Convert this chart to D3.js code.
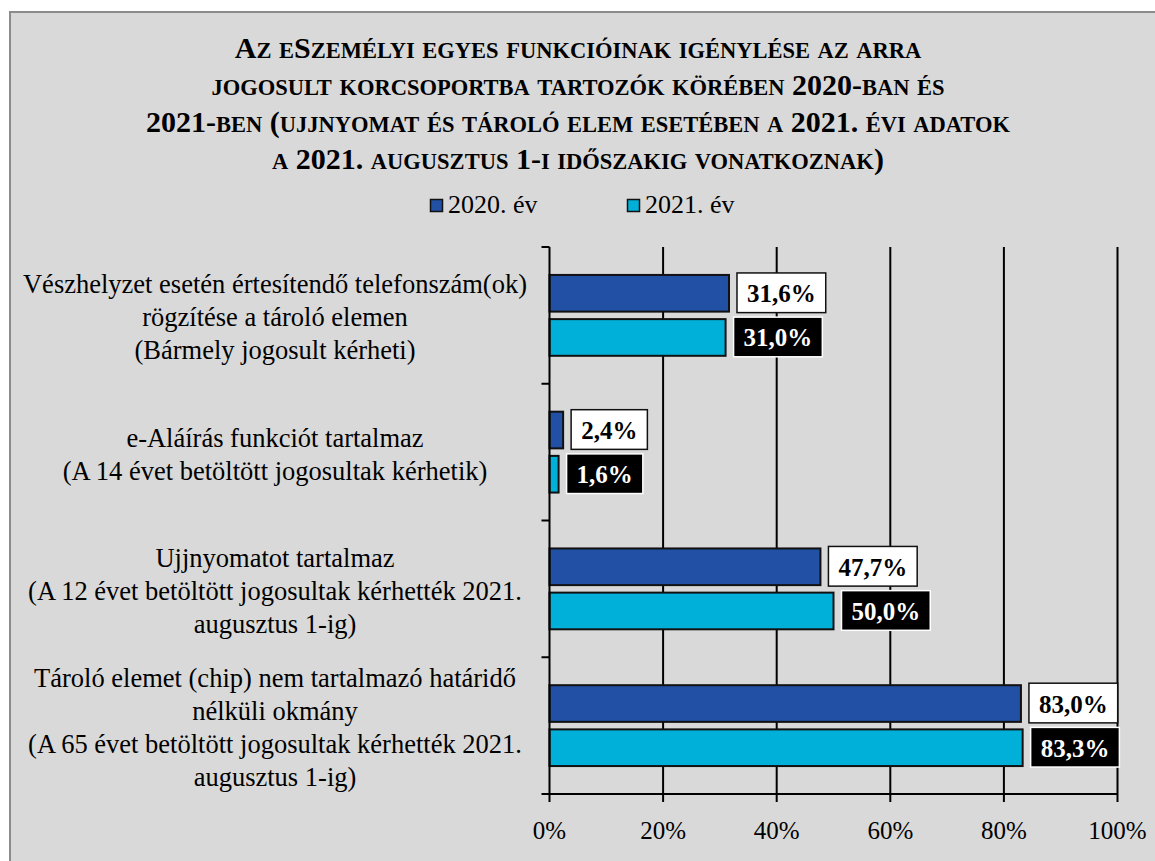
<!DOCTYPE html>
<html><head><meta charset="utf-8">
<script src="https://cdn.jsdelivr.net/npm/d3@7/dist/d3.min.js"></script>
<style>html,body{margin:0;padding:0;background:#fff;}svg{display:block;}</style>
</head><body>
<script>
const categories = [
  ["Vészhelyzet esetén értesítendő telefonszám(ok)", "rögzítése a tároló elemen", "(Bármely jogosult kérheti)"],
  ["e-Aláírás funkciót tartalmaz", "(A 14 évet betöltött jogosultak kérhetik)"],
  ["Ujjnyomatot tartalmaz", "(A 12 évet betöltött jogosultak kérhették 2021.", "augusztus 1-ig)"],
  ["Tároló elemet (chip) nem tartalmazó határidő", "nélküli okmány", "(A 65 évet betöltött jogosultak kérhették 2021.", "augusztus 1-ig)"]
];
const seriesNames = ["2020. év", "2021. év"];
const values2020 = [31.6, 2.4, 47.7, 83.0];
const values2021 = [31.0, 1.6, 50.0, 83.3];
const xTicks = [0, 20, 40, 60, 80, 100];
const titleLines = [
  "Az eSzemélyi egyes funkcióinak igénylése az arra",
  "jogosult korcsoportba tartozók körében 2020-ban és",
  "2021-ben (ujjnyomat és tároló elem esetében a 2021. évi adatok",
  "a 2021. augusztus 1-i időszakig vonatkoznak)"
];
const colors = ["#2250a4", "#00b0d8"];

const W = 1155, H = 861;
const svg = d3.select("body").append("svg").attr("width", W).attr("height", H);
const serif = "'Liberation Serif','Times New Roman',serif";

svg.append("rect").attr("x", 0).attr("y", 0).attr("width", W).attr("height", H).attr("fill", "#fff");
svg.append("rect").attr("x", 10).attr("y", 12).attr("width", W + 10).attr("height", H + 10)
  .attr("fill", "#d9d9d9").attr("stroke", "#8c8c8c").attr("stroke-width", 2);

// Title with manual small caps
const TF = 30, SC = 0.75;
function runs(s) {
  const out = [];
  for (const ch of s) {
    const low = ch !== ch.toUpperCase();
    if (out.length && out[out.length - 1].low === low) out[out.length - 1].t += ch;
    else out.push({ low, t: ch });
  }
  return out;
}
titleLines.forEach((line, i) => {
  const t = svg.append("text").attr("x", 578).attr("y", 58 + i * 37)
    .attr("text-anchor", "middle")
    .style("font-family", serif).style("font-weight", "bold").style("font-size", TF + "px")
    .attr("fill", "#000");
  runs(line).forEach(r => {
    t.append("tspan").style("font-size", (r.low ? TF * SC : TF) + "px")
      .text(r.low ? r.t.toUpperCase() : r.t);
  });
});

// Legend
const legendX = [430, 627];
const lg = svg.append("g");
seriesNames.forEach((s, i) => {
  lg.append("rect").attr("x", legendX[i] + 0.5).attr("y", 199.5).attr("width", 12).attr("height", 12)
    .attr("fill", colors[i]).attr("stroke", "#111").attr("stroke-width", 1.5);
  lg.append("text").attr("x", legendX[i] + 18).attr("y", 213)
    .style("font-family", serif).style("font-size", "26px").attr("fill", "#000").text(s);
});

// Scales
const x0 = 549.5, x1 = 1117.5, yTop = 247, yBot = 794;
const x = d3.scaleLinear().domain([0, 100]).range([x0, x1]);
const y = d3.scaleBand().domain(d3.range(categories.length)).range([yTop, yBot]).padding(0);
const bw = y.bandwidth();
const ySub = d3.scaleBand().domain([0, 1]).range([bw * 28 / 137, bw * 109 / 137]).paddingInner(0.17);

// Gridlines
const grid = svg.append("g");
xTicks.filter(t => t > 0).forEach(t => {
  grid.append("line").attr("x1", x(t)).attr("x2", x(t)).attr("y1", yTop).attr("y2", yBot + 8)
    .attr("stroke", "#000").attr("stroke-width", 2);
});

// Bars
const data = categories.map((c, i) => ({ i, vals: [values2020[i], values2021[i]] }));
const groups = svg.append("g").selectAll("g").data(data).join("g")
  .attr("transform", d => `translate(0,${y(d.i)})`);
groups.selectAll("rect").data(d => d.vals.map((v, k) => ({ v, k }))).join("rect")
  .attr("x", x(0)).attr("y", d => ySub(d.k)).attr("width", d => x(d.v) - x(0))
  .attr("height", ySub.bandwidth())
  .attr("fill", d => colors[d.k]).attr("stroke", "#111").attr("stroke-width", 2);

// Value labels
const fmt = v => v.toFixed(1).replace(".", ",") + "%";
groups.each(function (d) {
  const g = d3.select(this);
  d.vals.forEach((v, k) => {
    const t = g.append("text")
      .attr("y", ySub(k) + ySub.bandwidth() / 2 + 9)
      .style("font-family", serif).style("font-weight", "bold").style("font-size", "25px")
      .attr("text-anchor", "middle")
      .attr("fill", k === 0 ? "#000" : "#fff").text(fmt(v));
    const tw = t.node().getComputedTextLength();
    const bx = x(v) + 8, bwid = tw + 20;
    t.attr("x", bx + bwid / 2);
    g.insert("rect", "text").attr("x", bx).attr("y", ySub(k) - 2).attr("width", bwid)
      .attr("height", ySub.bandwidth() + 3)
      .attr("fill", k === 0 ? "#fff" : "#000")
      .attr("stroke", k === 0 ? "#111" : "#fff").attr("stroke-width", 1.5);
    t.raise();
  });
});

// Axes
const ax = svg.append("g").attr("stroke", "#000").attr("stroke-width", 2);
ax.append("line").attr("x1", x0).attr("x2", x0).attr("y1", yTop).attr("y2", yBot + 8);
ax.append("line").attr("x1", x0 - 7).attr("x2", x1).attr("y1", yBot).attr("y2", yBot);
d3.range(categories.length + 1).forEach(j => {
  const yy = yTop + j * bw;
  ax.append("line").attr("x1", x0 - 8).attr("x2", x0).attr("y1", yy).attr("y2", yy);
});

// X tick labels
svg.append("g").selectAll("text").data(xTicks).join("text")
  .attr("x", d => x(d)).attr("y", yBot + 45).attr("text-anchor", "middle")
  .style("font-family", serif).style("font-size", "25px").attr("fill", "#000")
  .text(d => d + "%");

// Category labels
const lh = 33;
categories.forEach((lines, i) => {
  const cy = y(i) + bw / 2 + 2;
  const start = cy - (lines.length - 1) * lh / 2;
  svg.append("g").selectAll("text").data(lines).join("text")
    .attr("x", 275).attr("y", (d, k) => start + k * lh + 9)
    .attr("text-anchor", "middle")
    .style("font-family", serif).style("font-size", "26.5px").attr("fill", "#000")
    .text(d => d);
});
</script>
</body></html>
